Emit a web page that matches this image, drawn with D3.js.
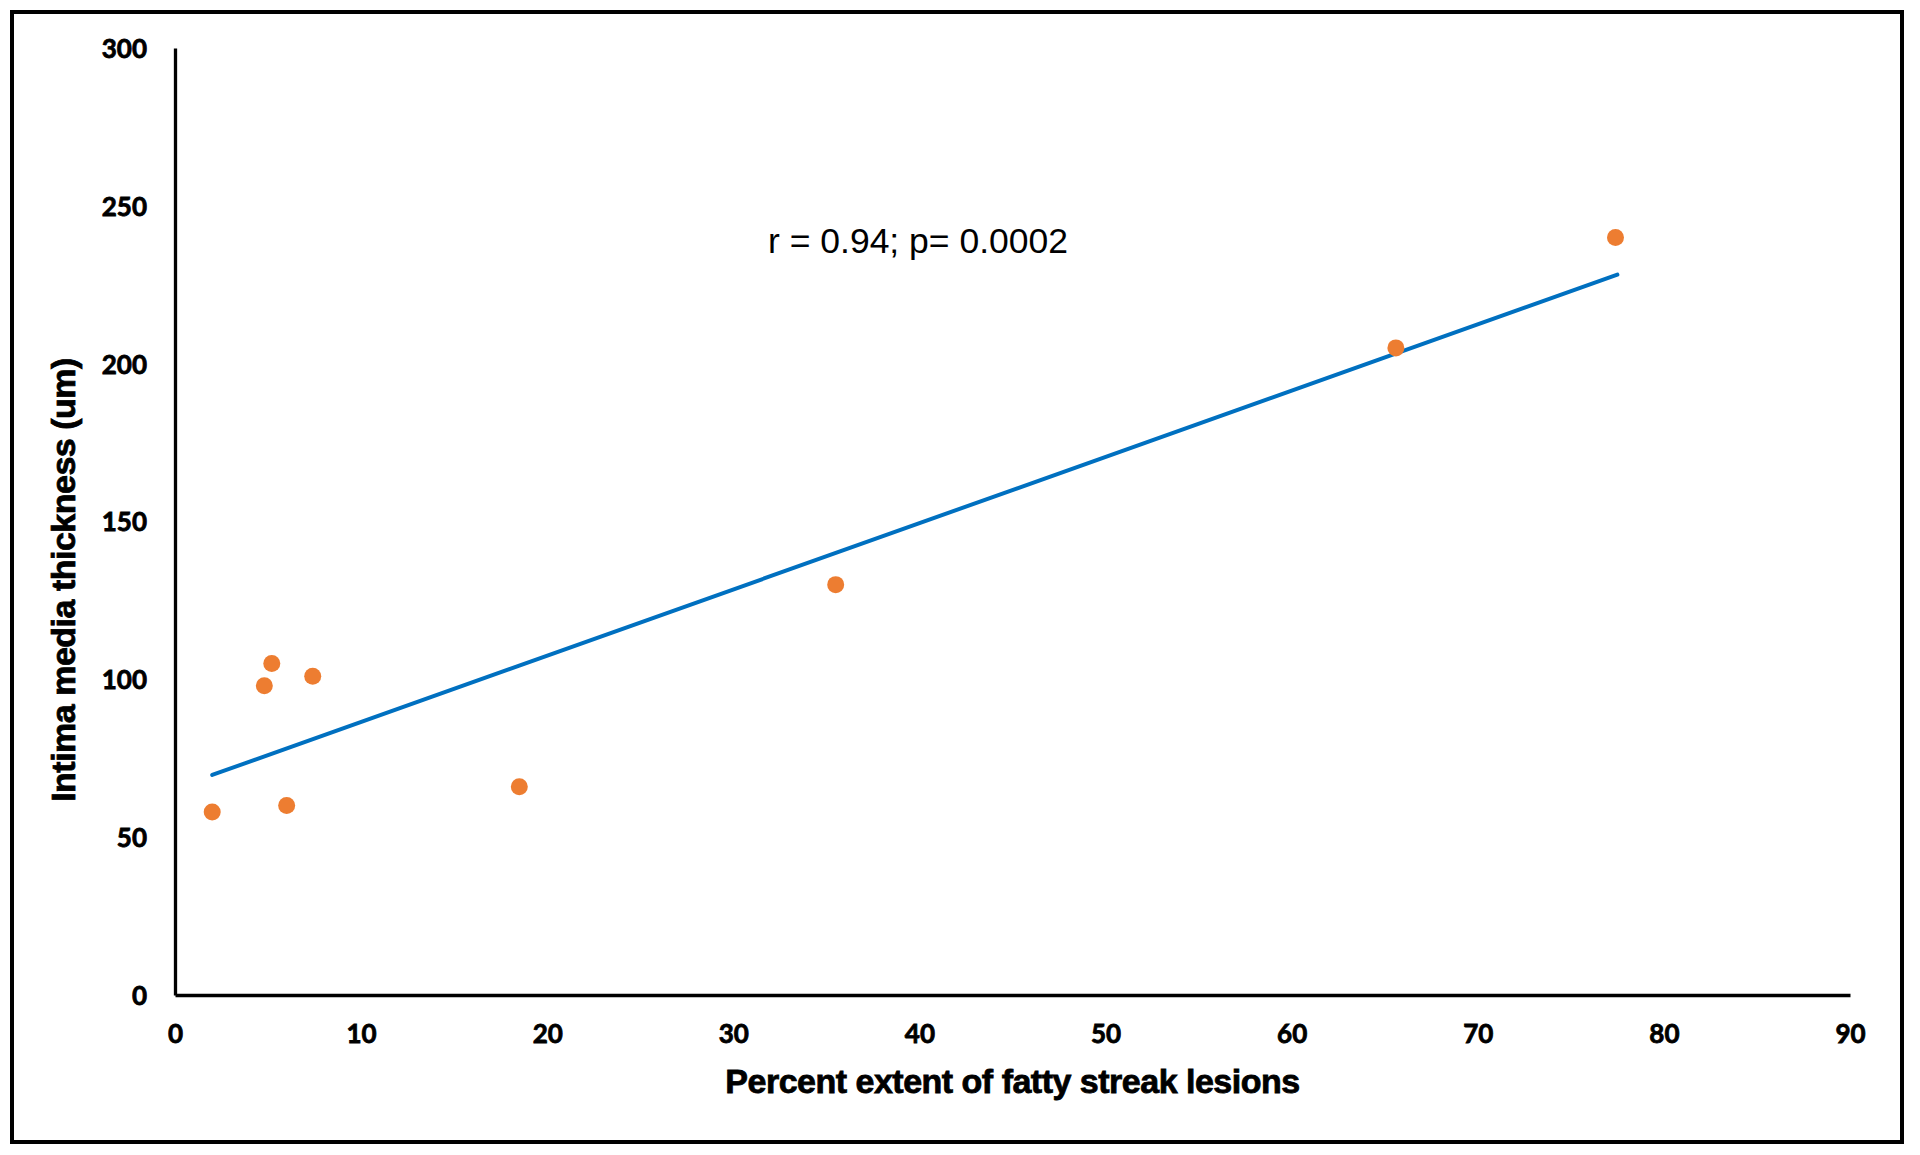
<!DOCTYPE html>
<html>
<head>
<meta charset="utf-8">
<script src="https://cdn.jsdelivr.net/npm/d3@7"></script>
<style>
  html, body { margin: 0; padding: 0; background: #fff; }
  svg { display: block; }
</style>
</head>
<body>
<svg id="chart" width="1920" height="1155"></svg>
<script>
// ---- data ----
const lesionPct = [2.0, 5.2, 4.8, 7.4, 6.0, 18.5, 35.5, 65.6, 77.4];
const imtValues = [58, 105, 98, 101, 60, 66, 130, 205, 240];
const trendX = [2.0, 77.5];
const trendY = [69.7, 228.2];
const xTicks = [0, 10, 20, 30, 40, 50, 60, 70, 80, 90];
const yTicks = [0, 50, 100, 150, 200, 250, 300];
const xTitle = "Percent extent of fatty streak lesions";
const yTitle = "Intima media thickness (um)";
const annotation = "r = 0.94; p= 0.0002";

(function () {
// ---- layout ----
const svg = d3.select("#chart");
const plotLeft = 175, plotRight = 1850, plotTop = 48, plotBottom = 995;

const x = d3.scaleLinear().domain([0, 90]).range([plotLeft, plotRight]);
const y = d3.scaleLinear().domain([0, 300]).range([plotBottom, plotTop]);

// outer frame
svg.append("rect")
  .attr("x", 12).attr("y", 12).attr("width", 1890).attr("height", 1130)
  .attr("fill", "none").attr("stroke", "#000").attr("stroke-width", 4);

// axes
const xAxis = d3.axisBottom(x).tickValues(xTicks).tickSize(0).tickPadding(0).tickFormat(d3.format("d"));
const yAxis = d3.axisLeft(y).tickValues(yTicks).tickSize(0).tickPadding(0).tickFormat(d3.format("d"));

const gx = svg.append("g").attr("transform", `translate(0,${plotBottom})`).call(xAxis);
gx.select(".domain").attr("stroke", "#000").attr("stroke-width", 3.3);
gx.selectAll(".tick text")
  .attr("y", 48).attr("dy", 0)
  .attr("font-family", "Lato, 'Liberation Sans', sans-serif")
  .attr("font-weight", "bold").attr("font-size", 26)
  .attr("fill", "#000").attr("stroke", "#000").attr("stroke-width", 0.8);

const gy = svg.append("g").attr("transform", `translate(${plotLeft},0)`).call(yAxis);
gy.select(".domain").attr("stroke", "#000").attr("stroke-width", 3.3);
gy.selectAll(".tick text")
  .attr("x", -28).attr("dy", "0.36em")
  .attr("font-family", "Lato, 'Liberation Sans', sans-serif")
  .attr("font-weight", "bold").attr("font-size", 26)
  .attr("fill", "#000").attr("stroke", "#000").attr("stroke-width", 0.8);

// axis titles
svg.append("text")
  .attr("x", (plotLeft + plotRight) / 2).attr("y", 1093)
  .attr("text-anchor", "middle")
  .attr("font-family", "'Liberation Sans', Arial, sans-serif")
  .attr("font-weight", "bold").attr("font-size", 34)
  .attr("letter-spacing", -0.5)
  .attr("fill", "#000").attr("stroke", "#000").attr("stroke-width", 0.8)
  .text(xTitle);

svg.append("text")
  .attr("transform", `translate(75,${(357 + 803) / 2}) rotate(-90)`)
  .attr("text-anchor", "middle")
  .attr("font-family", "'Liberation Sans', Arial, sans-serif")
  .attr("font-weight", "bold").attr("font-size", 34)
  .attr("letter-spacing", -0.5)
  .attr("fill", "#000").attr("stroke", "#000").attr("stroke-width", 0.8)
  .text(yTitle);

// trend line
const line = d3.line().x(d => x(d[0])).y(d => y(d[1]));
svg.append("path")
  .datum(d3.zip(trendX, trendY))
  .attr("d", line)
  .attr("fill", "none")
  .attr("stroke", "#0070C0")
  .attr("stroke-width", 4)
  .attr("stroke-linecap", "round");

// points
svg.append("g").selectAll("circle")
  .data(d3.zip(lesionPct, imtValues))
  .join("circle")
  .attr("cx", d => x(d[0]))
  .attr("cy", d => y(d[1]))
  .attr("r", 8.5)
  .attr("fill", "#ED7D31");

// annotation
svg.append("text")
  .attr("x", 768).attr("y", 253)
  .attr("font-family", "'Liberation Sans', Arial, sans-serif")
  .attr("font-size", 35.5)
  .attr("fill", "#000")
  .text(annotation);
})();
</script>
</body>
</html>
